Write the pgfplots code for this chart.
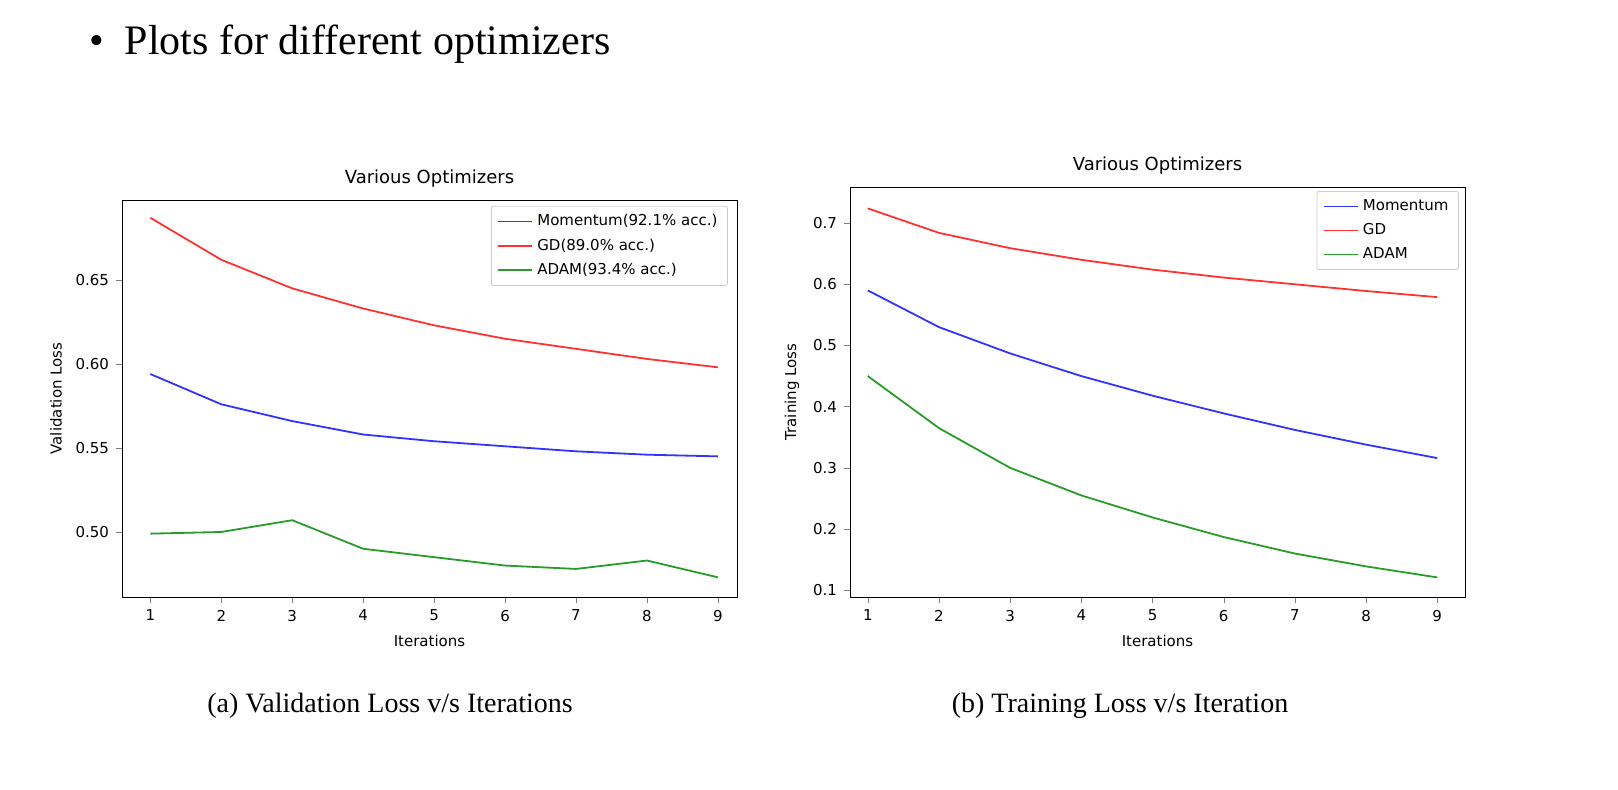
\documentclass[border=0pt]{standalone}
\usepackage{pgfplots}
\pgfplotsset{compat=1.18}
\usepackage{fontspec}
\setmainfont{Liberation Serif}
\newfontfamily\mpl{DejaVu Sans}
\definecolor{mb}{rgb}{0.2,0.2,1}
\definecolor{mr}{rgb}{1,0.2,0.2}
\definecolor{mg}{rgb}{0.17,0.6,0.17}
\begin{document}
\begin{tikzpicture}
\path[use as bounding box] (0pt,0pt) rectangle (809pt,395pt);
\node[anchor=west,font=\fontsize{21}{24}\selectfont] at (41pt,373pt) {\textbullet\ \ Plots for different optimizers};
\node[font=\fontsize{14}{16}\selectfont] at (195pt,42pt) {(a) Validation Loss v/s Iterations};
\node[font=\fontsize{14}{16}\selectfont] at (560pt,42pt) {(b) Training Loss v/s Iteration};
\pgfplotsset{every axis/.append style={scale only axis, font=\mpl\fontsize{7.5}{9}\selectfont,
  /pgf/number format/assume math mode=true, xtick={1,...,9}, tick align=outside, tick pos=left,
  major tick length=3pt, xlabel={Iterations}, title={Various Optimizers},
  title style={font=\mpl\fontsize{9}{11}\selectfont, yshift=-3pt},
  legend cell align=left, legend style={font=\mpl\fontsize{7.5}{9}\selectfont, draw=black!20, rounded corners=1pt, row sep=1pt},
  every axis plot/.append style={line width=0.9pt}}}
\begin{axis}[at={(61pt,96.5pt)}, anchor=south west, width=307.5pt, height=198.5pt,
  xmin=0.6, xmax=9.27, ymin=0.4613, ymax=0.6976, ytick={0.5,0.55,0.6,0.65},
  yticklabel style={/pgf/number format/.cd,fixed,fixed zerofill,precision=2},
  ylabel={Validation Loss}, legend style={at={(0.985,0.985)},anchor=north east}]
\addplot[mb] coordinates {(1,0.594)(2,0.576)(3,0.566)(4,0.558)(5,0.554)(6,0.551)(7,0.548)(8,0.546)(9,0.545)};
\addlegendentry{Momentum(92.1\% acc.)}
\addplot[mr] coordinates {(1,0.687)(2,0.662)(3,0.645)(4,0.633)(5,0.623)(6,0.615)(7,0.609)(8,0.603)(9,0.598)};
\addlegendentry{GD(89.0\% acc.)}
\addplot[mg] coordinates {(1,0.499)(2,0.500)(3,0.507)(4,0.490)(5,0.485)(6,0.480)(7,0.478)(8,0.483)(9,0.473)};
\addlegendentry{ADAM(93.4\% acc.)}
\end{axis}
\begin{axis}[at={(425pt,96.5pt)}, anchor=south west, width=307.5pt, height=205pt,
  xmin=0.75, xmax=9.39, ymin=0.089, ymax=0.759, ytick={0.1,0.2,...,0.7},
  yticklabel style={/pgf/number format/.cd,fixed,fixed zerofill,precision=1},
  ylabel={Training Loss}, legend style={at={(0.99,0.99)},anchor=north east}]
\addplot[mb] coordinates {(1,0.59)(2,0.53)(3,0.487)(4,0.45)(5,0.418)(6,0.389)(7,0.362)(8,0.338)(9,0.316)};
\addlegendentry{Momentum}
\addplot[mr] coordinates {(1,0.724)(2,0.684)(3,0.659)(4,0.640)(5,0.624)(6,0.611)(7,0.600)(8,0.589)(9,0.579)};
\addlegendentry{GD}
\addplot[mg] coordinates {(1,0.45)(2,0.365)(3,0.30)(4,0.255)(5,0.219)(6,0.187)(7,0.160)(8,0.139)(9,0.121)};
\addlegendentry{ADAM}
\end{axis}
\end{tikzpicture}
\end{document}
